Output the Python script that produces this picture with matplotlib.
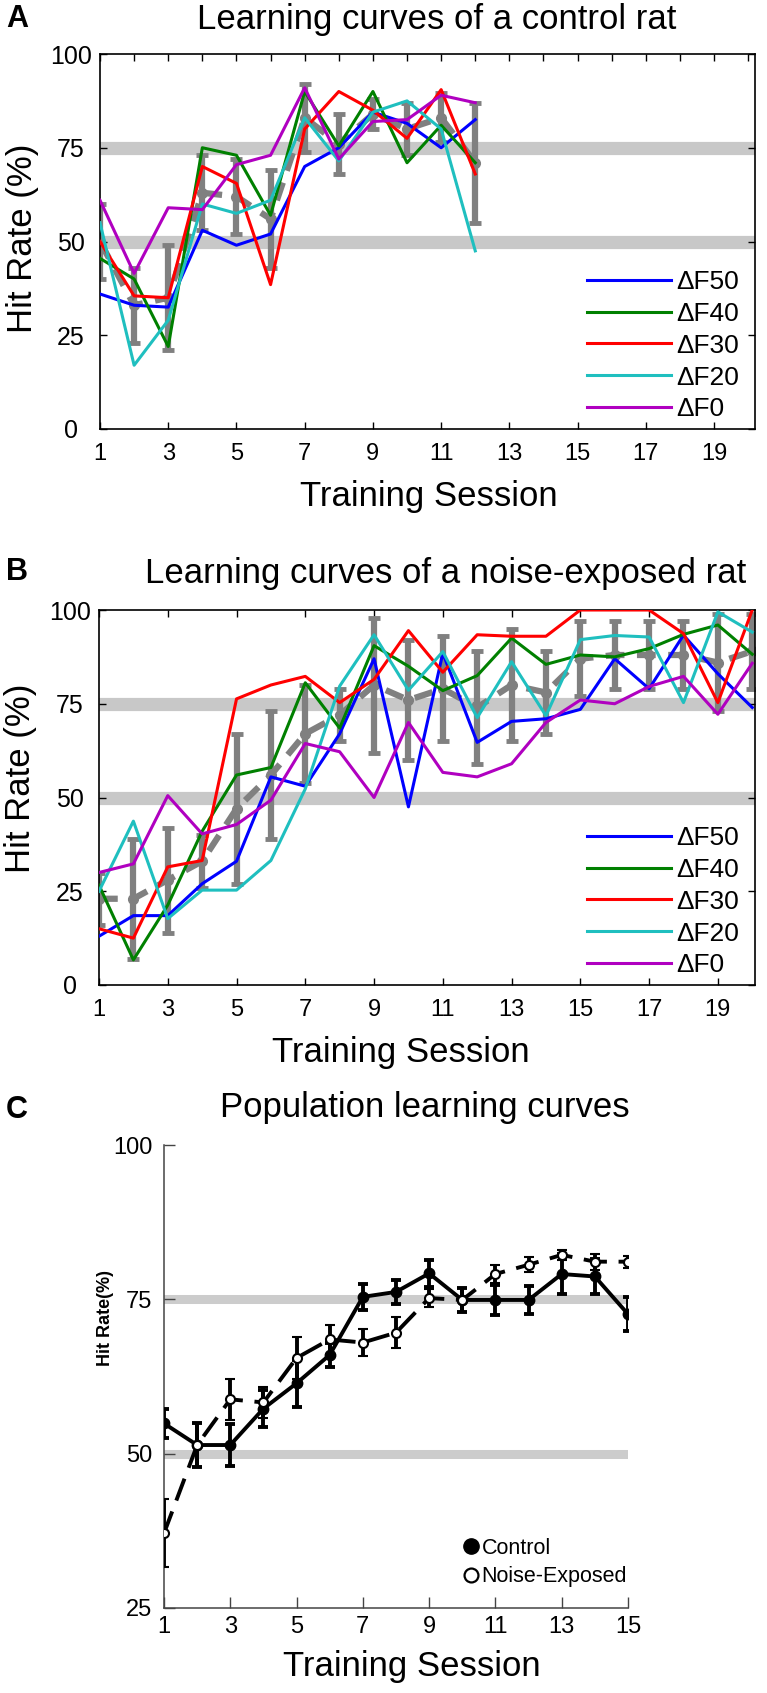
import matplotlib
matplotlib.use("Agg")
import matplotlib.pyplot as plt
from matplotlib.lines import Line2D
import numpy as np

plt.rcParams['font.family'] = ['Liberation Sans', 'DejaVu Sans']

# ---------------- data ----------------
sessions_A = list(range(1, 13))
A_F50 = [36, 33, 32.5, 53, 49, 52, 70, 75, 84.5, 81.5, 75, 82.5]
A_F40 = [45.5, 40, 22, 75, 73, 57, 90, 75.5, 90, 71, 81, 71]
A_F30 = [50, 35.5, 35, 70, 65.5, 38.5, 80, 90, 85, 77.5, 90.5, 68]
A_F20 = [55, 17, 29, 60, 57.5, 61, 83, 71.5, 84.5, 87.5, 80, 47.5]
A_F0 = [61, 41.5, 59, 58.5, 70.5, 73, 91, 72, 82, 82.5, 89, 87]
A_mean = [50, 33, 35, 63, 62, 56, 83, 76, 84, 80, 83, 71]
A_err = [10, 10, 14, 10, 10, 13, 9, 8, 4, 7, 6.5, 16]

sessions_B = list(range(1, 21))
B_F50 = [13, 18.5, 18.5, 27, 33, 55.5, 53, 67, 87, 47.5, 88.5, 64.7, 70.3, 71, 73.5, 87, 79, 93.3, 83, 74]
B_F40 = [26.6, 6.7, 21.3, 41, 56, 58, 80.6, 68.5, 90.5, 85, 78.5, 82.5, 92.5, 85.5, 88, 87.5, 89.7, 93.5, 96, 88.2]
B_F30 = [15, 12.5, 31.5, 33.2, 76.3, 80, 82.3, 75.3, 81.5, 94.5, 83.4, 93.4, 93, 93, 100, 100, 100, 93.7, 75.3, 100]
B_F20 = [25, 43.7, 17.7, 25.3, 25.3, 33.2, 52.3, 79.7, 93.4, 78.6, 88.9, 71.3, 86.2, 71.8, 92.1, 93.2, 92.8, 75.3, 99.5, 94.1]
B_F0 = [30, 32.3, 50.5, 40.3, 42.8, 49.3, 64.4, 62.2, 50, 70, 56.7, 55.5, 59, 70, 76, 75, 79.6, 82.3, 72.2, 85.8]
B_mean = [23, 23, 28, 33, 47, 56, 67, 72, 80, 76, 79, 74, 80, 78, 87, 88, 88, 88, 86, 89]
B_err = [7, 16, 14, 7, 20, 17, 13, 7, 18, 16, 14, 15, 15, 11, 10, 9, 9, 9, 13, 10]

labels = ['\u0394F50', '\u0394F40', '\u0394F30', '\u0394F20', '\u0394F0']
colors = ['#0000ff', '#008000', '#ff0000', '#1fbfbf', '#b000c0']

sessions_C = list(range(1, 16))
ctrl_mean = [54.9, 51.4, 51.4, 57.3, 61.4, 66.0, 75.4, 76.2, 79.2, 74.9, 74.9, 74.9, 79.1, 78.7, 72.6]
ctrl_err = [2.4, 3.6, 3.4, 3, 3.8, 2, 2.1, 1.9, 2.2, 2, 2.5, 2.3, 3.2, 2.9, 2.8]
noise_mean = [37.1, 51.4, 58.8, 58.3, 65.5, 68.5, 68.0, 69.6, 75.2, 74.9, 79.1, 80.6, 82.2, 81.1, 81.1]
noise_err = [5.5, 3.5, 3.3, 2.5, 3.4, 2.3, 2.2, 2.5, 1.5, 2, 1.5, 1.2, 0.8, 1.3, 1]

W, H = 767, 1693
fig = plt.figure(figsize=(W / 100, H / 100), dpi=100)


def frac_box(l, t, r, b):
    return [l / W, 1 - b / H, (r - l) / W, (b - t) / H]


def rat_panel(ax, xs, series, mean, err, xmax, ylab_y, xlab_x, minor_top):
    ax.axhline(75, color='#c8c8c8', lw=9.5, zorder=1)
    ax.axhline(50, color='#c8c8c8', lw=9.5, zorder=1)
    ax.errorbar(xs, mean, yerr=err, fmt='o', ls=(0, (3, 2)), lw=4.5, ms=7,
                color='#808080', elinewidth=4.5, capsize=4.5, capthick=3.5, zorder=2)
    handles = []
    for ys, c, lab in zip(series, colors, labels):
        h, = ax.plot(xs, ys, color=c, lw=2.2, zorder=3, label=lab)
        handles.append(h)
    ax.set_xlim(1, xmax)
    ax.set_ylim(0, 100)
    ax.set_xticks(range(1, 20, 2))
    ax.set_yticks([0, 25, 50, 75, 100])
    ax.tick_params(direction='in', length=5, width=1, top=True, right=True)
    ax.tick_params(axis='y', pad=21, labelsize=18)
    ax.tick_params(axis='x', pad=10, labelsize=17)
    for lab in ax.get_yticklabels():
        lab.set_ha('center')
    if minor_top:
        ax.set_xticks(range(1, 21), minor=True)
        ax.tick_params(which='minor', direction='in', length=5, width=1,
                       top=True, bottom=False)
    for s in ax.spines.values():
        s.set_linewidth(1.2)
    ax.set_ylabel('Hit Rate (%)', fontsize=25)
    ax.yaxis.set_label_coords(-0.119, ylab_y)
    ax.yaxis.label.set_va('center')
    ax.set_xlabel('Training Session', fontsize=25)
    ax.xaxis.set_label_coords(xlab_x, -0.18)
    ax.xaxis.label.set_va('center')
    ax.legend(handles=handles, loc='lower right', bbox_to_anchor=(0.976, 0.02),
              frameon=False, fontsize=19, handlelength=3.2, handletextpad=0.2,
              labelspacing=0.3, borderpad=0, borderaxespad=0)


axA = fig.add_axes(frac_box(100, 54, 755, 429))
rat_panel(axA, sessions_A, [A_F50, A_F40, A_F30, A_F20, A_F0], A_mean, A_err,
          20.2, 0.509, 0.502, True)

axB = fig.add_axes(frac_box(99, 610, 755, 985))
rat_panel(axB, sessions_B, [B_F50, B_F40, B_F30, B_F20, B_F0], B_mean, B_err,
          20.08, 0.55, 0.46, False)

# ---------------- panel C ----------------
axC = fig.add_axes(frac_box(164, 1145, 628, 1608))
axC.axhline(75, color='#cccccc', lw=6.5, zorder=1)
axC.axhline(50, color='#cccccc', lw=6.5, zorder=1)
axC.errorbar(sessions_C, ctrl_mean, yerr=ctrl_err, fmt='-o', color='black', lw=2.8,
             ms=7.5, mfc='black', mec='black', elinewidth=2.8, capsize=3.8, capthick=2.8,
             zorder=3)
axC.errorbar(sessions_C, noise_mean, yerr=noise_err, fmt='o', ls=(0, (6, 3)),
             color='black', lw=2.8, ms=6.5, mfc='white', mec='black', mew=1.5,
             elinewidth=2.8, capsize=3.8, capthick=2.8, zorder=4)
axC.set_xlim(1, 15)
axC.set_ylim(25, 100)
axC.set_xticks(range(1, 16, 2))
axC.set_yticks([25, 50, 75, 100])
axC.spines['top'].set_visible(False)
axC.spines['right'].set_visible(False)
for s in ('left', 'bottom'):
    axC.spines[s].set_color('#444444')
    axC.spines[s].set_linewidth(1.1)
axC.tick_params(direction='in', length=8, width=1, color='#444444', labelsize=17)
axC.tick_params(axis='y', pad=8.5)
axC.tick_params(axis='x', pad=6)
axC.set_ylabel('Hit Rate(%)', fontsize=13, fontweight='bold')
axC.yaxis.set_label_coords(-0.127, 0.626)
axC.yaxis.label.set_va('center')
axC.set_xlabel('Training Session', fontsize=25)
axC.xaxis.set_label_coords(0.535, -0.127)
axC.xaxis.label.set_va('center')
leg_handles = [Line2D([], [], ls='none', marker='o', ms=11, mfc='black', mec='black'),
               Line2D([], [], ls='none', marker='o', ms=10, mfc='white', mec='black', mew=1.6)]
axC.legend(leg_handles, ['Control', 'Noise-Exposed'], loc='lower left',
           bbox_to_anchor=(0.645, 0.045), frameon=False, fontsize=15.5,
           handlelength=0.7, handletextpad=0.15, labelspacing=0.35,
           borderpad=0, borderaxespad=0)

# ---------------- titles ----------------
fig.text(437 / W, 1 - 20 / H, 'Learning curves of a control rat', fontsize=25,
         ha='center', va='center')
fig.text(446 / W, 1 - 574 / H, 'Learning curves of a noise-exposed rat', fontsize=25,
         ha='center', va='center')
fig.text(425 / W, 1 - 1108 / H, 'Population learning curves', fontsize=25,
         ha='center', va='center')
for letter, y in (('A', 19), ('B', 572), ('C', 1110)):
    fig.text(17 / W, 1 - y / H, letter, fontsize=22, fontweight='bold',
             ha='center', va='center')

fig.savefig('out.png', dpi=100)
